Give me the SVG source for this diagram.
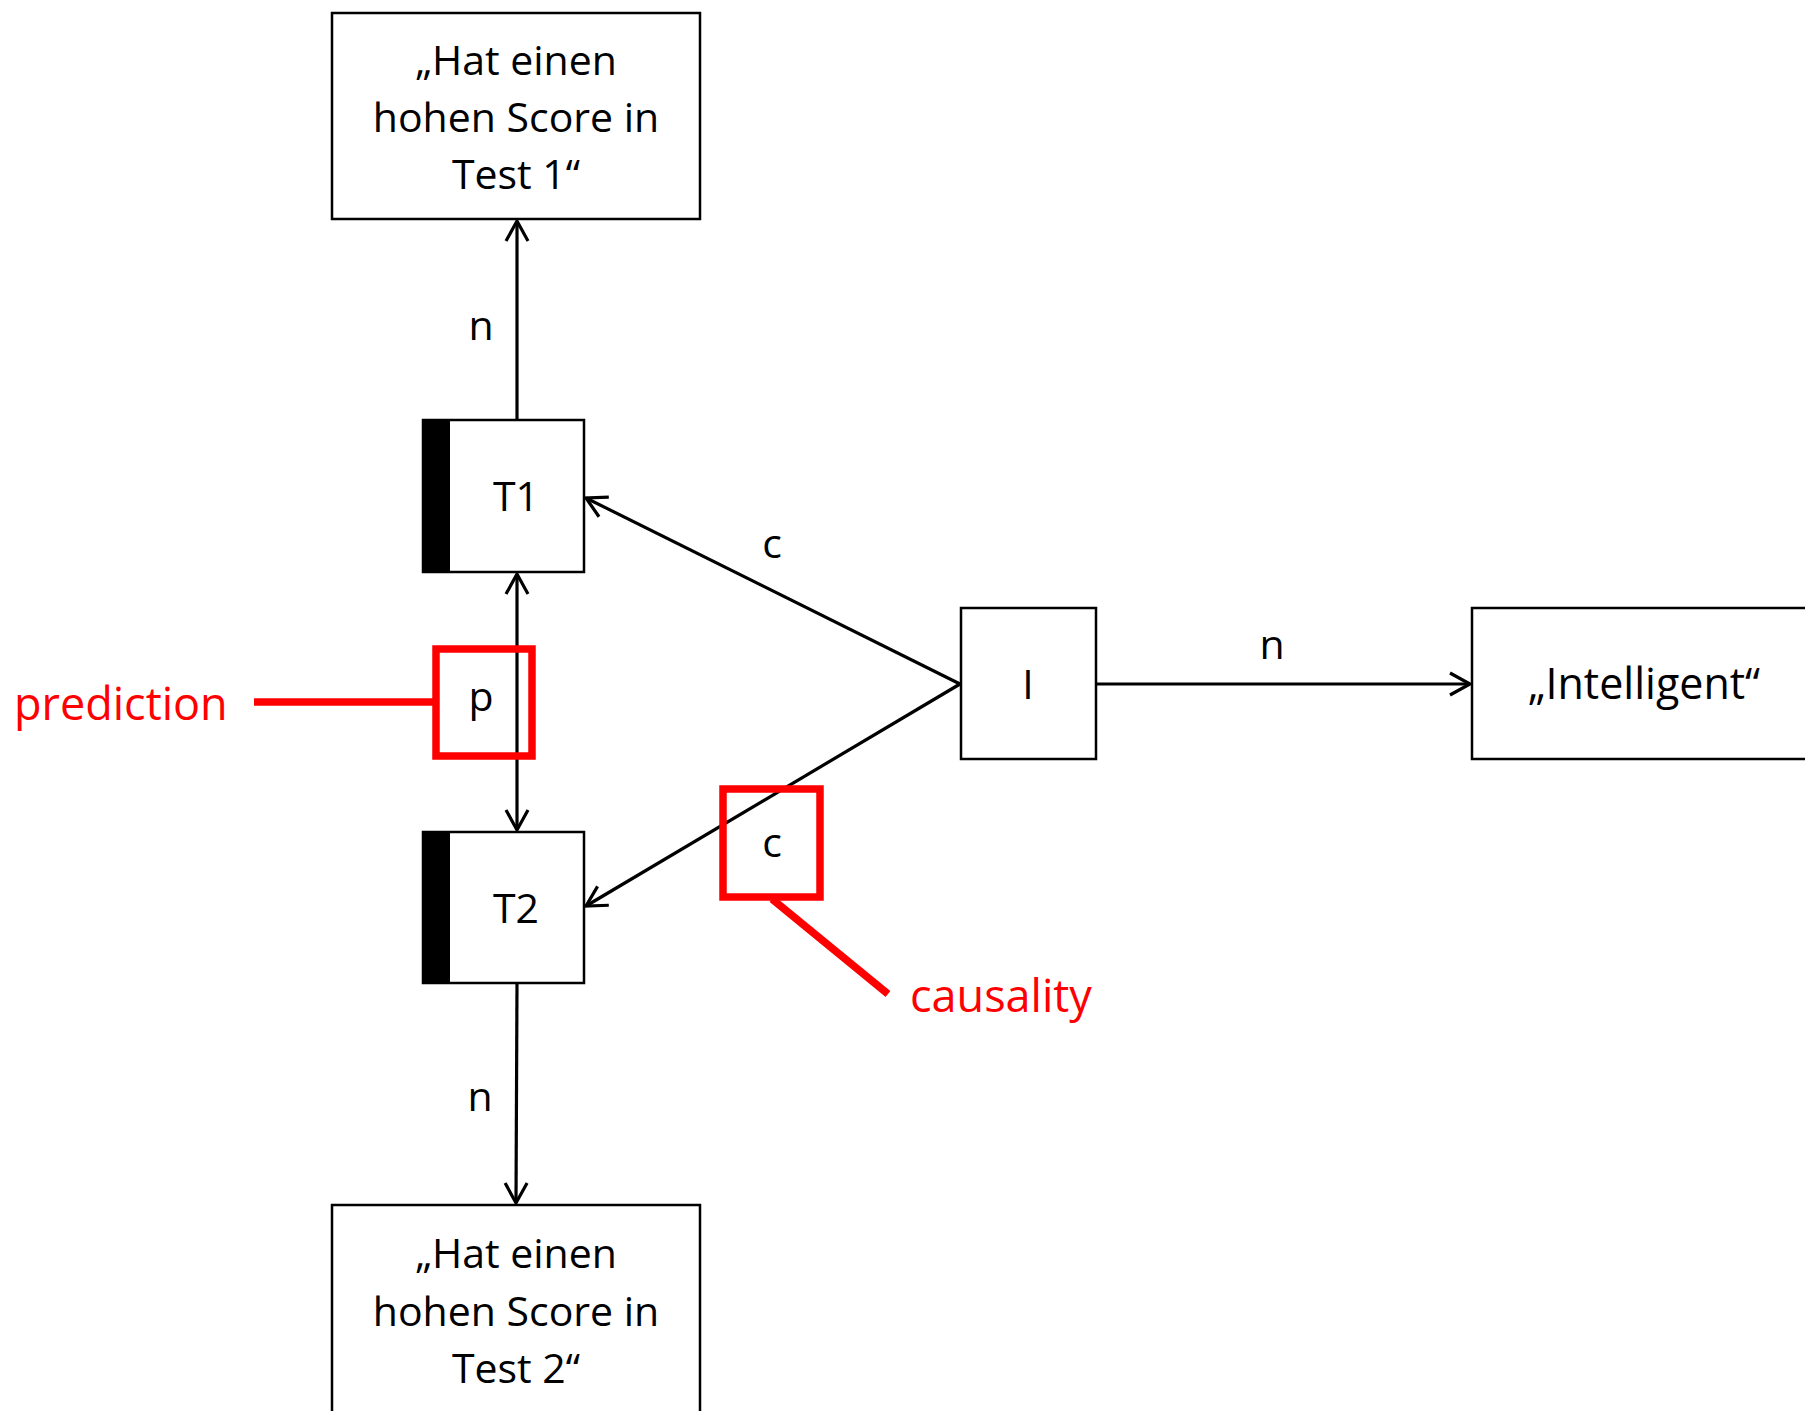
<svg xmlns="http://www.w3.org/2000/svg" width="1805" height="1411" viewBox="0 0 1805 1411">
<style>
  .box { fill: #fff; stroke: #000; stroke-width: 2.5; }
  .bar { fill: #000; }
  .t { font-family: "Open Sans", "Liberation Sans", sans-serif; font-size: 41px; fill: #000; text-anchor: middle; }
  .red { font-family: "Open Sans", "Liberation Sans", sans-serif; font-size: 45px; fill: #FF0000; }
  .conn { stroke: #000; stroke-width: 3.2; fill: none; }
  .hl { stroke: #FF0000; stroke-width: 7.5; fill: none; }
</style>
<defs>
  <marker id="arr" viewBox="-24 -14 28 28" refX="0" refY="0" markerWidth="28" markerHeight="28" markerUnits="userSpaceOnUse" orient="auto-start-reverse">
    <path d="M-20,-11 L0,0 L-20,11" fill="none" stroke="#000" stroke-width="3.2"/>
  </marker>
</defs>
<rect width="1805" height="1411" fill="#fff"/>

<g id="connectors">
  <line class="conn" x1="517" y1="420" x2="517" y2="221" marker-end="url(#arr)"/>
  <line class="conn" x1="517" y1="574" x2="517" y2="830" marker-start="url(#arr)" marker-end="url(#arr)"/>
  <line class="conn" x1="517" y1="983" x2="516" y2="1203" marker-end="url(#arr)"/>
  <line class="conn" x1="960" y1="684" x2="586" y2="498" marker-end="url(#arr)"/>
  <line class="conn" x1="960" y1="684" x2="586" y2="906" marker-end="url(#arr)"/>
  <line class="conn" x1="1096" y1="684" x2="1470" y2="684" marker-end="url(#arr)"/>
  <text class="t" x="481" y="340">n</text>
  <text class="t" x="481" y="711">p</text>
  <text class="t" x="480" y="1111">n</text>
  <text class="t" x="772" y="558">c</text>
  <text class="t" x="772" y="857">c</text>
  <text class="t" x="1272" y="659">n</text>
</g>

<g id="node-test1">
  <rect class="box" x="332" y="13" width="368" height="206"/>
  <text class="t" x="516" y="75">„Hat einen</text>
  <text class="t" x="516" y="132">hohen Score in</text>
  <text class="t" x="516" y="189">Test 1“</text>
</g>

<g id="node-T1">
  <rect class="box" x="423" y="420" width="161" height="152"/>
  <rect class="bar" x="422" y="419" width="28" height="154"/>
  <text class="t" x="516" y="511">T1</text>
</g>

<g id="node-T2">
  <rect class="box" x="423" y="832" width="161" height="151"/>
  <rect class="bar" x="422" y="831" width="28" height="153"/>
  <text class="t" x="516" y="923">T2</text>
</g>

<g id="node-I">
  <rect class="box" x="961" y="608" width="135" height="151"/>
  <text class="t" x="1028" y="699">I</text>
</g>

<g id="node-intelligent">
  <rect class="box" x="1472" y="608" width="345" height="151"/>
  <text class="t" x="1644" y="699" style="font-size:43px">„Intelligent“</text>
</g>

<g id="node-test2">
  <rect class="box" x="332" y="1205" width="368" height="220"/>
  <text class="t" x="516" y="1268">„Hat einen</text>
  <text class="t" x="516" y="1326">hohen Score in</text>
  <text class="t" x="516" y="1383">Test 2“</text>
</g>

<g id="annotation-prediction">
  <rect class="hl" x="436" y="649" width="96" height="107"/>
  <line class="hl" x1="254" y1="702" x2="436" y2="702"/>
  <text class="red" x="14" y="720">prediction</text>
</g>

<g id="annotation-causality">
  <rect class="hl" x="723" y="789" width="97" height="108"/>
  <line class="hl" x1="772" y1="899" x2="888" y2="994"/>
  <text class="red" x="910" y="1012">causality</text>
</g>
</svg>
